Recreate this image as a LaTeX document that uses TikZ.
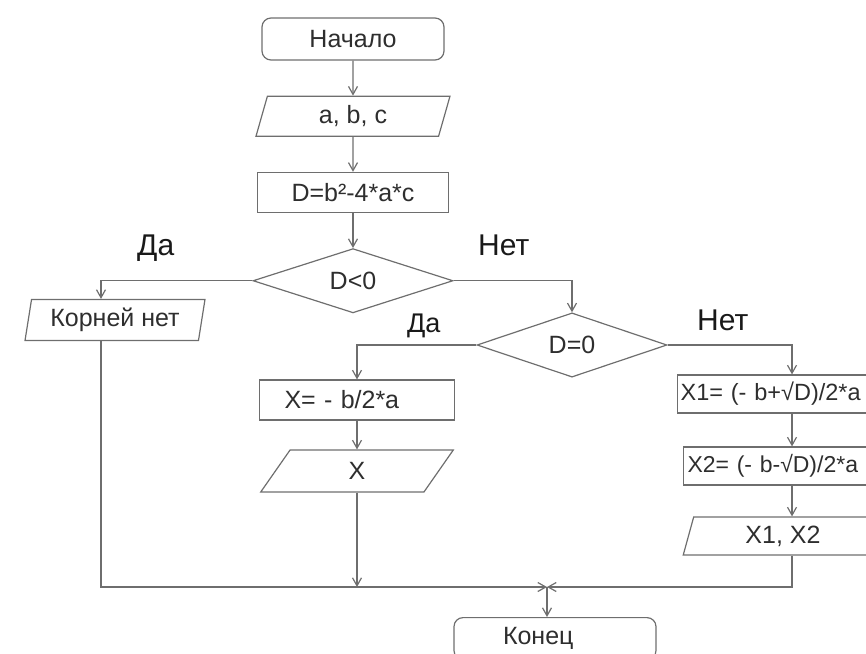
\documentclass[tikz,border=0pt]{standalone}
\usepackage{fontspec}
\setmainfont{Liberation Sans}
\usetikzlibrary{arrows.meta,positioning,shapes.geometric}
\definecolor{lineGray}{HTML}{6E6E6E}
\definecolor{textGray}{HTML}{2E2E2E}
\newcommand{\boxfont}{\fontsize{25}{30}\selectfont}
\newcommand{\lblfont}{\fontsize{30}{36}\selectfont}

\begin{document}
\begin{tikzpicture}[
  x=1pt, y=-1pt,
  box/.style={draw=lineGray, line width=1.2pt, text=textGray, font=\boxfont, inner sep=0pt},
  term/.style={box, rounded corners=9pt, minimum width=182pt, minimum height=42pt},
  proc/.style={box, rectangle, minimum width=195pt, minimum height=40pt},
  io/.style={box, trapezium, trapezium left angle=78, trapezium right angle=102,
             trapezium stretches=true, minimum width=195pt, minimum height=40pt},
  cond/.style={box, diamond, minimum width=200pt, minimum height=55pt},
  lbl/.style={font=\lblfont, text=black!90, anchor=base west, inner sep=0pt},
  arr/.style={draw=lineGray, line width=1.2pt, -{Straight Barb[length=8pt,width=9pt]}},
]
  \useasboundingbox (0,0) rectangle (866,653);

  \node[term] (start) at (353,39) {Начало};
  \node[io, below=35pt of start] (input) {a, b, c};
  \node[proc, minimum width=191pt, below=35pt of input] (calc) {D=b²-4*a*c};
  \node[cond, below=35pt of calc] (d0) {D<0};

  \node[io, minimum width=180pt, minimum height=41pt] (noroots) at (115,320) {Корней нет};
  \node[cond, minimum width=190pt, minimum height=54pt] (d1) at (572,345) {D=0};
  \node[proc, text width=145pt, inner xsep=25pt, align=left] (xbox) at (357,400) {X= - b/2*a};
  \node[io, minimum width=193pt, minimum height=42pt] (xout) at (357,471) {X};
  \node[proc, anchor=west, minimum height=38pt, text width=209pt, inner xsep=3pt,
        align=left, font=\fontsize{23.5}{28}\selectfont] (x1box) at (677,394) {X1= (- b+√D)/2*a};
  \node[proc, anchor=west, minimum height=38pt, text width=203pt, inner xsep=4pt,
        align=left, font=\fontsize{23}{28}\selectfont] (x2box) at (683,466) {X2= (- b-√D)/2*a};
  \node[io, minimum width=200pt, minimum height=38pt] (roots) at (783,536) {X1, X2};
  \node[term, anchor=north, minimum width=202pt, text width=104pt, inner xsep=49pt,
        align=left] (stop) at (555,617) {Конец};

  % branch labels
  \node[lbl] (yes0) at (137,255) {Да};
  \node[lbl] (no0) at (478,255) {Нет};
  \node[lbl, font=\fontsize{27}{32}\selectfont] (yes1) at (407,332) {Да};
  \node[lbl] (no1) at (697,330) {Нет};

  \coordinate (lcol) at (101,0);
  \coordinate (rcol) at (792,0);
  \coordinate (join) at (547,587);

  \draw[arr] (start) -- (input);
  \draw[arr] (input) -- (calc);
  \draw[arr] (calc) -- (d0);
  \draw[arr] (d0.west) -| (noroots.north -| lcol);
  \draw[arr] (d0.east) -| (d1.north);
  \draw[arr] (d1.west) -| (xbox.north);
  \draw[arr] (xbox) -- (xout);
  \draw[arr] (d1.east) -| (x1box.north -| rcol);
  \draw[arr] (x1box.south -| rcol) -- (x2box.north -| rcol);
  \draw[arr] (x2box.south -| rcol) -- (roots.north -| rcol);

  % merge into the end
  \draw[arr] (roots.south -| rcol) |- (join);
  \draw[arr] (noroots.south -| lcol) |- (join);
  \draw[arr] (xout.south) -- (xout.south |- join);
  \draw[arr] (join) -- (join |- stop.north);
\end{tikzpicture}
\end{document}
